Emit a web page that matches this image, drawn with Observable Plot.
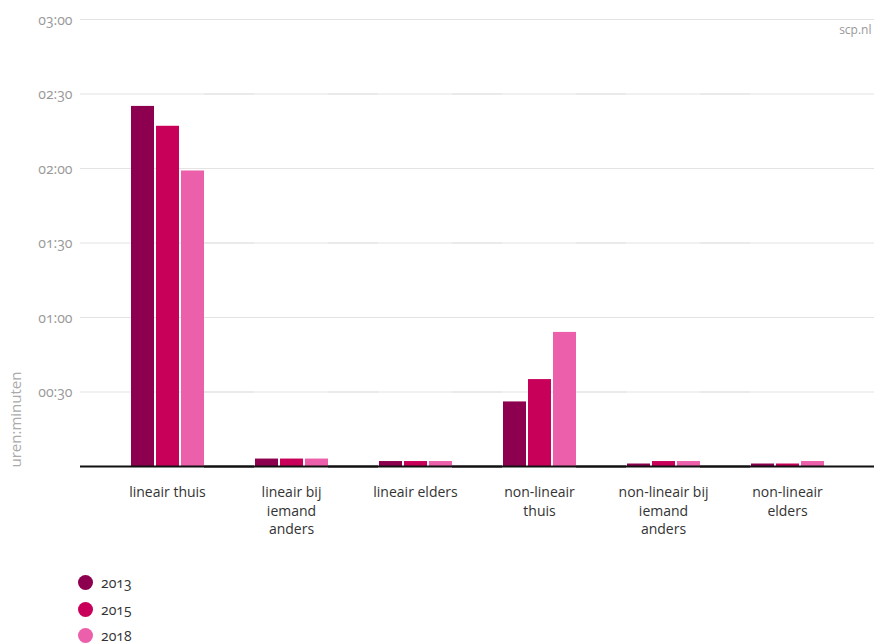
<!DOCTYPE html>
<html><head><meta charset="utf-8">
<script src="https://cdn.jsdelivr.net/npm/d3@7"></script>
<script src="https://cdn.jsdelivr.net/npm/@observablehq/plot@0.6"></script>
<style>
body{margin:0;background:#fff;font-family:"Open Sans",sans-serif;}
#chart svg{display:block;}
#legend{margin-left:78px;margin-top:9px;}
.row{display:flex;align-items:center;height:26.7px;}
.dot{width:15px;height:15px;border-radius:50%;margin-right:8px;}
.lab{font-size:14px;color:#333;font-variant-numeric:oldstyle-nums;}
</style></head><body><div id="chart"></div><div id="legend"></div>
<script>
const categories = ["lineair thuis","lineair bij iemand anders","lineair elders","non-lineair thuis","non-lineair bij iemand anders","non-lineair elders"];
const categoryLabels = ["lineair thuis","lineair bij\niemand\nanders","lineair elders","non-lineair\nthuis","non-lineair bij\niemand\nanders","non-lineair\nelders"];
const years = ["2013","2015","2018"];
const colors = ["#8c004f","#c8005a","#eb5fab"];
const minutes2013 = [145,3,2,26,1,1];
const minutes2015 = [137,3,2,35,2,1];
const minutes2018 = [119,3,2,54,2,2];
const yTicks = [30,60,90,120,150,180];
const yTitle = "uren:minuten";
const source = "scp.nl";

const series = [minutes2013, minutes2015, minutes2018];
const data = [];
categories.forEach((c, i) => years.forEach((y, j) => data.push({category: c, year: y, minutes: series[j][i]})));
const fmt = m => String(Math.floor(m/60)).padStart(2,"0") + ":" + String(m%60).padStart(2,"0");
const first = () => categories[0];
const last = () => categories[categories.length - 1];

const plot = Plot.plot({
  width: 874, height: 560, marginLeft: 80, marginRight: 0, marginTop: 19, marginBottom: 94,
  style: {fontFamily: "'Open Sans', sans-serif", fontSize: "14px", background: "#fff"},
  fx: {domain: categories, padding: 0, insetLeft: 25, insetRight: 25, axis: null},
  x: {domain: years, paddingInner: 0.1, paddingOuter: 0, insetLeft: 25, insetRight: 25, axis: null},
  y: {domain: [0, 180], axis: null},
  color: {domain: years, range: colors},
  marks: [
    Plot.ruleY(yTicks, {insetLeft: -25, insetRight: -25, stroke: "#e3e3e3", strokeWidth: 1}),
    Plot.barY(data, {fx: "category", x: "year", y: "minutes", fill: "year"}),
    Plot.ruleY([0], {insetLeft: -25, insetRight: -25, stroke: "#111", strokeWidth: 2}),
    Plot.text(yTicks, {fx: first, y: d => d, text: fmt, frameAnchor: "left", dx: -33, textAnchor: "end", lineAnchor: "middle", dy: 1, fill: "#999", fontSize: 14, fontVariant: "oldstyle-nums"}),
    Plot.axisFx({anchor: "bottom", tickSize: 0, tickPadding: 18, lineHeight: 1.3, tickFormat: c => categoryLabels[categories.indexOf(c)], label: null, fontSize: 14, fill: "#333"}),
    Plot.text([yTitle], {fx: first, frameAnchor: "bottom-left", rotate: -90, textAnchor: "middle", lineAnchor: "middle", dx: -89, dy: -47, fill: "#aaa", fontSize: 15}),
    Plot.text([source], {fx: last, frameAnchor: "top-right", textAnchor: "end", lineAnchor: "middle", dx: 22, dy: 11, fill: "#999", fontSize: 12})
  ]
});
document.getElementById("chart").appendChild(plot);

const legend = document.getElementById("legend");
years.forEach((y, j) => {
  const row = document.createElement("div"); row.className = "row";
  const dot = document.createElement("div"); dot.className = "dot"; dot.style.background = colors[j];
  const lab = document.createElement("span"); lab.className = "lab"; lab.textContent = y;
  row.appendChild(dot); row.appendChild(lab); legend.appendChild(row);
});
</script></body></html>
